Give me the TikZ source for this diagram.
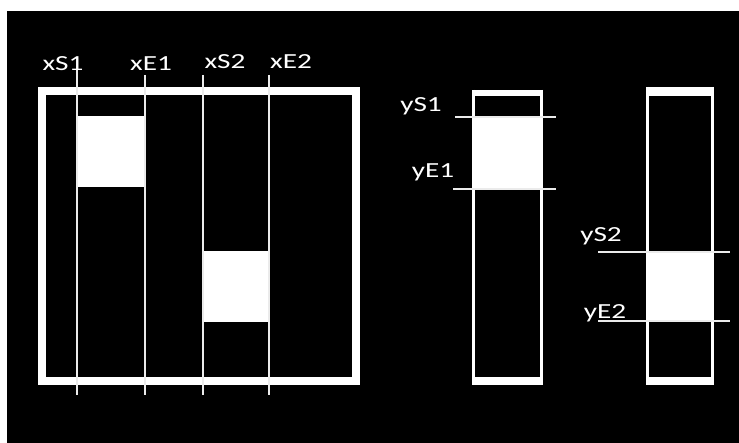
\documentclass[tikz,border=0pt]{standalone}
\usepackage{fontspec}
\setmainfont{Carlito}
\tikzset{
  lbl/.style={text=white, inner sep=0pt, anchor=base, font=\fontsize{21.5}{22}\selectfont},
  frame/.style={draw=white, line width=8pt},
  guide/.style={draw=white!92!black, line width=2.4pt},
  side/.style={draw=white, line width=3pt},
  blk/.style={fill=white, draw=none}
}
\newcommand{\wide}[1]{\scalebox{1.36}[1]{#1}}
\begin{document}
\begin{tikzpicture}[x=1pt,y=-1pt]
\useasboundingbox (0,0) rectangle (739,443);
\fill[white] (0,0) rectangle (739,443);
\fill[black] (7,11) rectangle (739,443);

% ---------- left panel ----------
\fill[blk] (77,116) rectangle (145,187);
\fill[blk] (203,251) rectangle (269,322);
\draw[frame] (42,91) rectangle (356,381);
\coordinate (xs1t) at (77,70);  \coordinate (xs1b) at (77,395);
\coordinate (xe1t) at (145,75); \coordinate (xe1b) at (145,395);
\coordinate (xs2t) at (203,75); \coordinate (xs2b) at (203,395);
\coordinate (xe2t) at (269,75); \coordinate (xe2b) at (269,395);
\draw[guide] (xs1t) -- (xs1b);
\draw[guide] (xe1t) -- (xe1b);
\draw[guide] (xs2t) -- (xs2b);
\draw[guide] (xe2t) -- (xe2b);
\node[lbl] (lxs1) at (63,71) {\wide{xS1}};
\node[lbl] (lxe1) at (151,71) {\wide{xE1}};
\node[lbl] (lxs2) at (225,69) {\wide{xS2}};
\node[lbl] (lxe2) at (291,69) {\wide{xE2}};

% ---------- column 1 ----------
\fill[blk] (473,117) rectangle (541,189);
\fill[blk] (472,90) rectangle (543,96);
\fill[blk] (472,377) rectangle (543,385);
\draw[side] (473.5,90) -- (473.5,385);
\draw[side] (541.5,90) -- (541.5,385);
\coordinate (ys1l) at (455,117); \coordinate (ys1r) at (556,117);
\coordinate (ye1l) at (453,189); \coordinate (ye1r) at (556,189);
\draw[guide] (ys1l) -- (ys1r);
\draw[guide] (ye1l) -- (ye1r);
\node[lbl] (lys1) at (421,112) {\wide{yS1}};
\node[lbl] (lye1) at (433,178) {\wide{yE1}};

% ---------- column 2 ----------
\fill[blk] (647,252) rectangle (713,321);
\fill[blk] (646,87) rectangle (714,96);
\fill[blk] (646,377) rectangle (714,385);
\draw[side] (647.5,87) -- (647.5,385);
\draw[side] (712.5,87) -- (712.5,385);
\node[lbl] (lys2) at (601,242) {\wide{yS2}};
\node[lbl] (lye2) at (605,319) {\wide{yE2}};
\coordinate (ys2l) at (598,252); \coordinate (ys2r) at (730,252);
\coordinate (ye2l) at (598,321); \coordinate (ye2r) at (730,321);
\draw[guide] (ys2l) -- (ys2r);
\draw[guide] (ye2l) -- (ye2r);
\end{tikzpicture}
\end{document}
